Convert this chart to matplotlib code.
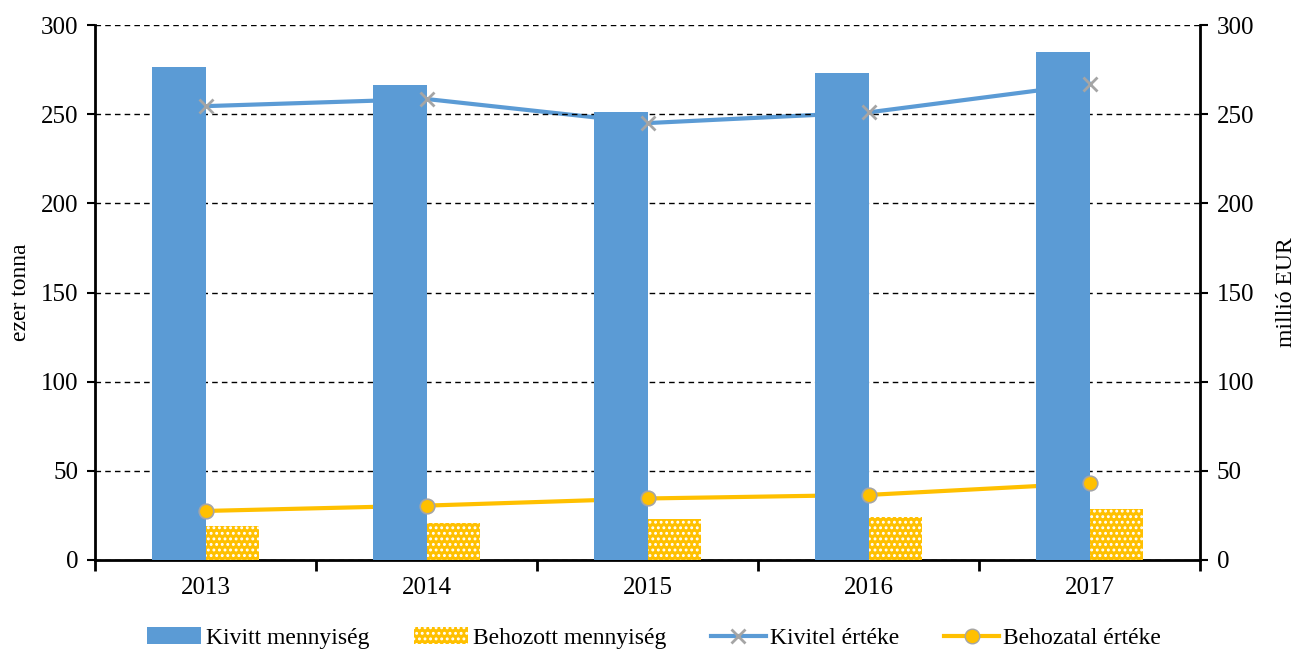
import matplotlib
matplotlib.use("Agg")
import matplotlib.pyplot as plt
import numpy as np
from matplotlib.patches import Patch
from matplotlib.lines import Line2D

plt.rcParams['font.family'] = ['Liberation Serif', 'DejaVu Serif']
plt.rcParams['hatch.color'] = 'white'
plt.rcParams['hatch.linewidth'] = 1.3

years = ["2013", "2014", "2015", "2016", "2017"]
kivitt_menny = [276.5, 266.5, 251, 273, 285]
behozott_menny = [19, 21, 23, 24, 28.5]
kivitel_ertek = [254.5, 258.5, 245, 251, 267]
behozatal_ertek = [27.5, 30.5, 34.5, 36.5, 43]

blue = "#5B9BD5"
yellow = "#FFC000"
gray = "#A5A5A5"

fig = plt.figure(figsize=(12.95, 6.53), dpi=100)
ax = fig.add_axes([95 / 1295, 1 - 560 / 653, 1105 / 1295, 535 / 653])
ax2 = ax.twinx()

x = np.arange(len(years))
w = 0.24

# lines sit behind the bars, markers on top
ax.set_zorder(2)
ax.patch.set_visible(False)
ax2.set_zorder(1)

ax2.plot(x, kivitel_ertek, color=blue, lw=3.0)
ax2.plot(x, behozatal_ertek, color=yellow, lw=3.0)

ax.bar(x - w / 2, kivitt_menny, w, color=blue, zorder=3)
ax.bar(x + w / 2, behozott_menny, w, color=yellow, edgecolor='white', linewidth=0, hatch='...', zorder=3)
ax.plot(x, kivitel_ertek, ls='none', marker='x', ms=10, mew=2, color=gray, zorder=5)
ax.plot(x, behozatal_ertek, ls='none', marker='o', ms=10.5, mfc=yellow, mec=gray, mew=1.2, zorder=5)

for a in (ax, ax2):
    a.set_ylim(0, 300)
    a.set_yticks(range(0, 301, 50))
    a.set_xlim(-0.5, len(years) - 0.5)
    a.tick_params(axis='y', labelsize=18, direction='out', length=6, width=1.5, pad=6)
    a.spines['top'].set_visible(False)

ax.spines['right'].set_visible(False)
ax.spines['left'].set_linewidth(2)
ax.spines['bottom'].set_linewidth(2)
ax2.spines['right'].set_linewidth(2)
ax2.spines['left'].set_visible(False)
ax2.spines['bottom'].set_visible(False)

ax.yaxis.grid(True, ls=(0, (4, 3)), color='black', lw=1)
ax.set_axisbelow(False)
for gl in ax.get_ygridlines():
    gl.set_zorder(1)

ax.set_xticks(x)
ax.set_xticklabels(years, fontsize=18)
ax.tick_params(axis='x', length=0, pad=12)
ax.set_xticks(np.arange(-0.5, len(years), 1), minor=True)
ax.tick_params(axis='x', which='minor', direction='out', length=8, width=2)

ax.set_ylabel("ezer tonna", fontsize=17, labelpad=7)
ax2.set_ylabel("millió EUR", fontsize=17, labelpad=16)

handles = [
    Patch(facecolor=blue, label="Kivitt mennyiség"),
    Patch(facecolor=yellow, edgecolor='white', linewidth=0, hatch='...', label="Behozott mennyiség"),
    Line2D([], [], color=blue, lw=3.0, marker='x', ms=10, mew=2, mec=gray, label="Kivitel értéke"),
    Line2D([], [], color=yellow, lw=3.0, marker='o', ms=10.5, mfc=yellow, mec=gray, label="Behozatal értéke"),
]
fig.legend(handles=handles, loc='center', bbox_to_anchor=(0.505, 1 - 638 / 653), ncol=4,
           frameon=False, fontsize=17, handlelength=2.3, handletextpad=0.2, columnspacing=1.9)

fig.savefig("out.png", dpi=100)
